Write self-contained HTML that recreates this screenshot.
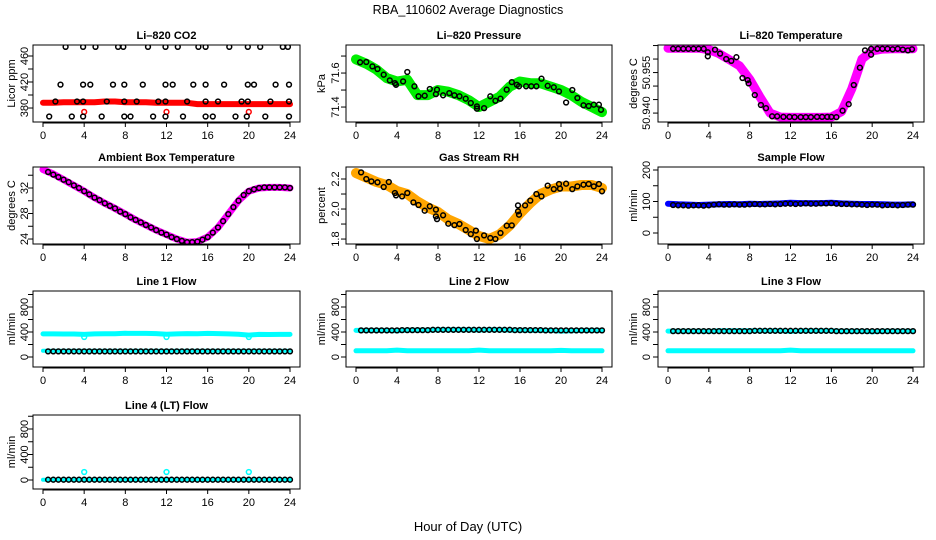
<!DOCTYPE html>
<html><head><meta charset="utf-8"><style>
html,body{margin:0;padding:0;background:#fff;}
svg{display:block;font-family:"Liberation Sans",Arial,sans-serif;}
</style></head><body>
<svg id="chart" width="936" height="540" viewBox="0 0 936 540" xmlns="http://www.w3.org/2000/svg">
<rect x="0" y="0" width="936" height="540" fill="#fff"/>
<text x="468" y="14" text-anchor="middle" font-size="12.5">RBA_110602  Average Diagnostics</text>
<text x="468" y="531" text-anchor="middle" font-size="13">Hour of Day (UTC)</text>
</svg>
<script>
// ---- shared x data ----
const xTicks = [0,4,8,12,16,20,24];
const hourly = [0,1,2,3,4,5,6,7,8,9,10,11,12,13,14,15,16,17,18,19,20,21,22,23,24];
const halfHours = [0.5,1,1.5,2,2.5,3,3.5,4,4.5,5,5.5,6,6.5,7,7.5,8,8.5,9,9.5,10,10.5,11,11.5,12,12.5,13,13.5,14,14.5,15,15.5,16,16.5,17,17.5,18,18.5,19,19.5,20,20.5,21,21.5,22,22.5,23,23.5,24];
const outlierHours = [4,12,20];

// ---- CO2 ----
const co2BlackHours = [2.2,3.9,5.1,7.3,7.8,10.2,11.9,13.1,15.1,15.8,18.1,19.9,21.1,23.3,23.8, 1.7,3.9,4.6,6.8,7.9,9.7,11.9,12.6,14.6,15.8,17.6,19.9,20.5,22.6,23.9, 1.2,3.3,3.9,6.2,7.9,9.1,11.2,11.9,14.0,15.8,17.0,19.3,19.9,22.1,23.9, 0.6,2.8,3.9,5.7,7.9,8.5,10.7,11.9,13.6,15.8,16.5,18.7,19.8,21.6,23.9];
const co2BlackVals = [474,474,474,474,474,474,474,474,474,474,474,474,474,474,474, 416,416,416,416,416,416,416,416,416,416,416,416,416,416,416, 390,390,390,390,390,390,390,390,390,390,390,390,390,390,390, 367,367,367,367,367,367,367,367,367,367,367,367,367,367,367];
const co2RedVals = [388,388,389,389,389,389,390,390,389,389,389,388,388,388,388,386,386,386,386,386,386,386,386,386,386];
const co2RedOutliers = [374,374,374];

// ---- Pressure ----
const presBlackHours = [0.4,1.0,1.6,2.1,2.7,3.3,3.8,3.9,4.6,5.0,5.7,6.1,6.7,7.2,7.8,7.9,8.5,9.1,9.6,10.1,10.7,11.2,11.8,11.8,12.5,13.1,13.6,14.1,14.7,15.2,15.7,15.9,16.6,17.1,17.6,18.1,18.7,19.3,19.8,20.5,21.1,21.6,22.2,22.7,23.2,23.7,23.9];
const presBlackVals = [71.663,71.665,71.639,71.624,71.590,71.557,71.541,71.531,71.551,71.606,71.522,71.463,71.467,71.506,71.476,71.502,71.469,71.482,71.469,71.463,71.449,71.424,71.390,71.404,71.394,71.463,71.437,71.449,71.502,71.547,71.531,71.522,71.522,71.522,71.522,71.567,71.525,71.516,71.492,71.427,71.500,71.453,71.410,71.406,71.414,71.414,71.384];
const presGreenVals = [71.68,71.655,71.62,71.57,71.55,71.56,71.47,71.47,71.50,71.49,71.47,71.44,71.40,71.43,71.46,71.52,71.55,71.54,71.54,71.52,71.50,71.47,71.43,71.40,71.37];

// ---- Li-820 temperature ----
const tempBlackHours = [0.5,1.0,1.5,2.0,2.5,3.0,3.5,3.9,3.9,4.6,5.1,5.7,6.2,6.7,7.3,7.8,7.9,8.5,9.1,9.6,10.2,10.7,11.3,11.9,12.4,13.0,13.5,14.0,14.6,15.1,15.6,16.0,16.5,17.1,17.7,18.2,18.8,19.3,19.9,19.9,20.5,21.0,21.5,22.0,22.5,23.0,23.5,23.9];
const tempBlackVals = [50.9638,50.9638,50.9638,50.9638,50.9638,50.9638,50.9638,50.9625,50.9610,50.9635,50.9620,50.9600,50.9593,50.9607,50.9530,50.9522,50.9510,50.9467,50.9430,50.9418,50.9388,50.9388,50.9386,50.9386,50.9385,50.9385,50.9385,50.9385,50.9386,50.9386,50.9386,50.9386,50.9385,50.9409,50.9433,50.9504,50.9568,50.9632,50.9616,50.9638,50.9638,50.9638,50.9638,50.9636,50.9638,50.9635,50.9632,50.9636];
const tempBandVals = [50.9640,50.9640,50.9640,50.9640,50.9635,50.9620,50.9598,50.9575,50.9525,50.9460,50.9400,50.9385,50.9384,50.9384,50.9384,50.9384,50.9385,50.9405,50.9490,50.9600,50.9630,50.9637,50.9638,50.9638,50.9638];

// ---- Ambient box temperature ----
const ambBlackVals = [34.5,34.1,33.7,33.3,32.9,32.4,32.0,31.5,31.0,30.5,30.1,29.6,29.2,28.8,28.3,27.9,27.4,27.0,26.6,26.2,25.8,25.4,25.0,24.7,24.3,24.0,23.7,23.5,23.5,23.6,23.9,24.3,25.0,25.8,26.8,27.9,29.0,30.0,30.9,31.5,31.8,32.0,32.1,32.1,32.1,32.1,32.1,32.0];
const ambBandVals = [34.9,34.2,33.3,32.4,31.5,30.5,29.6,28.8,27.9,27.0,26.2,25.4,24.7,24.0,23.5,23.6,24.3,25.8,27.9,30.0,31.5,32.0,32.1,32.1,32.0];

// ---- Gas stream RH ----
const rhBlackHours = [0.5,1.0,1.5,2.1,2.7,3.2,3.8,3.9,4.5,5.0,5.6,6.1,6.7,7.2,7.8,7.8,7.9,8.5,9.0,9.6,10.1,10.7,11.2,11.7,11.8,12.5,13.1,13.6,14.1,14.7,15.2,15.8,15.8,15.9,16.5,17.0,17.6,18.1,18.7,19.3,19.8,19.9,20.5,21.1,21.6,22.2,22.7,23.2,23.7,24.0];
const rhBlackVals = [2.244,2.200,2.184,2.178,2.147,2.180,2.107,2.091,2.084,2.107,2.044,2.027,1.989,2.018,1.996,1.951,1.933,1.958,1.902,1.893,1.900,1.860,1.833,1.856,1.800,1.824,1.807,1.800,1.840,1.889,1.891,2.024,1.984,1.962,2.024,2.056,2.100,2.084,2.156,2.133,2.167,2.136,2.169,2.133,2.151,2.162,2.167,2.151,2.167,2.118];
const rhBandVals = [2.24,2.21,2.18,2.16,2.12,2.10,2.05,2.01,1.98,1.93,1.90,1.86,1.82,1.80,1.83,1.89,1.97,2.04,2.10,2.13,2.15,2.15,2.16,2.16,2.14];

// ---- Sample flow ----
const sampleBlackVals = [89,88,88,87,88,88,87,88,90,91,90,90,91,90,90,91,92,91,91,92,91,92,93,93,92,93,94,93,93,94,94,95,93,92,92,91,91,90,89,90,90,88,89,89,88,89,90,90];
const sampleBandVals = [93,91,90,89,90,91,92,91,93,92,93,94,96,95,95,95,96,94,93,92,92,91,90,90,91];

// ---- Line flows ----
const line1BlackVals = [90,90,90,90,90,90,90,90,90,90,90,90,90,90,90,90,90,90,90,90,90,90,90,90,90,90,90,90,90,90,90,90,90,90,90,90,90,90,90,90,90,90,90,90,90,90,90,90];
const line1CyanHigh = [370,370,368,368,362,370,372,372,380,378,378,375,365,370,375,372,378,375,370,365,350,362,360,362,362];
const line1CyanLow = [100,100,100,100,100,100,100,100,100,100,100,100,100,100,100,100,100,100,100,100,100,100,100,100,100];
const line1CyanOutliers = [320,320,320];
const line2BlackVals = [425,425,425,425,425,425,425,425,430,430,430,430,430,430,435,435,435,435,435,435,435,435,435,435,435,435,435,435,435,435,430,430,430,430,430,430,425,425,425,425,425,425,425,425,425,425,425,425];
const line2CyanHigh = [425,425,425,425,420,430,430,430,435,435,435,435,430,435,435,430,430,425,425,425,415,420,425,425,425];
const line2CyanLow = [100,100,100,100,110,100,100,100,100,100,100,100,110,100,100,100,100,100,100,100,105,100,100,100,100];
const line3BlackVals = [415,415,415,415,415,415,415,415,415,415,415,415,415,415,415,415,420,420,420,420,420,420,420,420,420,420,420,420,420,420,420,420,415,415,415,415,415,415,415,415,415,415,415,415,415,415,415,415];
const line3CyanHigh = [415,415,415,415,410,420,420,420,420,420,420,420,410,420,420,420,420,415,415,415,405,415,415,415,415];
const line3CyanLow = [100,100,100,100,100,100,100,100,100,100,100,100,110,100,100,100,100,100,100,100,100,100,100,100,100];
const line4BlackVals = [5,5,5,5,5,5,5,5,5,5,5,5,5,5,5,5,5,5,5,5,5,5,5,5,5,5,5,5,5,5,5,5,5,5,5,5,5,5,5,5,5,5,5,5,5,5,5,5];
const line4CyanVals = [5,5,5,5,5,5,5,5,5,5,5,5,5,5,5,5,5,5,5,5,5,5,5,5,5];
const line4CyanOutliers = [125,125,125];

const lineYTicks = [0,200,400,600,800,1000];
const lineYLabels = ["0","","400","","800",""];

const cols = [{l:33,r:300,x0:43,x24:290,lab:24,tit:11},{l:346,r:612,x0:356,x24:602,lab:335,tit:321},{l:658,r:924,x0:668,x24:913,lab:646,tit:633}];
const rows = [{t:45,b:122},{t:167,b:244},{t:291,b:367},{t:415,b:489}];

const panels = [
 {name:'co2',title:'Li\u2013820 CO2',ylab:'Licor ppm',c:0,r:0,ymin:358.5,ymax:476.9,yt:[380,400,420,440,460],yl:['380','','420','','460'],
  s:[{k:'band',x:hourly,y:co2RedVals,col:'#ff0000',w:6},{k:'pts',x:outlierHours,y:co2RedOutliers,col:'#ff0000'},{k:'pts',x:co2BlackHours,y:co2BlackVals,col:'#000'}]},
 {name:'pressure',title:'Li\u2013820 Pressure',ylab:'kPa',c:1,r:0,ymin:71.312,ymax:71.765,yt:[71.4,71.5,71.6,71.7],yl:['71.4','','71.6',''],
  s:[{k:'band',x:hourly,y:presGreenVals,col:'#00ee00',w:10},{k:'pts',x:presBlackHours,y:presBlackVals,col:'#000'}]},
 {name:'li820-temperature',title:'Li\u2013820 Temperature',ylab:'degrees C',c:2,r:0,ymin:50.9367,ymax:50.9652,yt:[50.940,50.945,50.950,50.955,50.960,50.965],yl:['50.940','','','50.955','',''],
  s:[{k:'band',x:hourly,y:tempBandVals,col:'#ff00ff',w:9},{k:'pts',x:tempBlackHours,y:tempBlackVals,col:'#000'}]},
 {name:'ambient-temperature',title:'Ambient Box Temperature',ylab:'degrees C',c:0,r:1,ymin:23.22,ymax:35.29,yt:[24,26,28,30,32,34],yl:['24','','28','','32',''],
  s:[{k:'band',x:hourly,y:ambBandVals,col:'#ff00ff',w:7},{k:'pts',x:halfHours,y:ambBlackVals,col:'#000'}]},
 {name:'gas-stream-rh',title:'Gas Stream RH',ylab:'percent',c:1,r:1,ymin:1.767,ymax:2.28,yt:[1.8,1.9,2.0,2.1,2.2],yl:['1.8','','2.0','','2.2'],
  s:[{k:'band',x:hourly,y:rhBandVals,col:'#ffa500',w:10},{k:'pts',x:rhBlackHours,y:rhBlackVals,col:'#000'}]},
 {name:'sample-flow',title:'Sample Flow',ylab:'ml/min',c:2,r:1,ymin:-34.9,ymax:209.5,yt:[0,50,100,150,200],yl:['0','','100','','200'],
  s:[{k:'band',x:hourly,y:sampleBandVals,col:'#0000ff',w:6},{k:'pts',x:halfHours,y:sampleBlackVals,col:'#000'}]},
 {name:'line1-flow',title:'Line 1 Flow',ylab:'ml/min',c:0,r:2,ymin:-160,ymax:1056,yt:lineYTicks,yl:lineYLabels,
  s:[{k:'band',x:hourly,y:line1CyanHigh,col:'#00ffff',w:5},{k:'pts',x:outlierHours,y:line1CyanOutliers,col:'#00ffff'},{k:'band',x:hourly,y:line1CyanLow,col:'#00ffff',w:4},{k:'pts',x:halfHours,y:line1BlackVals,col:'#000'}]},
 {name:'line2-flow',title:'Line 2 Flow',ylab:'ml/min',c:1,r:2,ymin:-160,ymax:1056,yt:lineYTicks,yl:lineYLabels,
  s:[{k:'band',x:hourly,y:line2CyanHigh,col:'#00ffff',w:5},{k:'band',x:hourly,y:line2CyanLow,col:'#00ffff',w:5},{k:'pts',x:halfHours,y:line2BlackVals,col:'#000'}]},
 {name:'line3-flow',title:'Line 3 Flow',ylab:'ml/min',c:2,r:2,ymin:-160,ymax:1056,yt:lineYTicks,yl:lineYLabels,
  s:[{k:'band',x:hourly,y:line3CyanHigh,col:'#00ffff',w:5},{k:'band',x:hourly,y:line3CyanLow,col:'#00ffff',w:5},{k:'pts',x:halfHours,y:line3BlackVals,col:'#000'}]},
 {name:'line4-flow',title:'Line 4 (LT) Flow',ylab:'ml/min',c:0,r:3,ymin:-141,ymax:1019.6,yt:lineYTicks,yl:lineYLabels,
  s:[{k:'band',x:hourly,y:line4CyanVals,col:'#00ffff',w:4},{k:'pts',x:outlierHours,y:line4CyanOutliers,col:'#00ffff'},{k:'pts',x:halfHours,y:line4BlackVals,col:'#000'}]}
];

const NS = 'http://www.w3.org/2000/svg';
const svg = document.getElementById('chart');
function mk(tag, attrs, parent){
  const e = document.createElementNS(NS, tag);
  for (const k in attrs) e.setAttribute(k, attrs[k]);
  parent.appendChild(e);
  return e;
}

panels.forEach(p => {
  const C = cols[p.c], R = rows[p.r];
  const xs = h => C.x0 + (C.x24 - C.x0) * h / 24;
  const ys = v => R.b - (v - p.ymin) / (p.ymax - p.ymin) * (R.b - R.t);
  const g = mk('g', {}, svg);
  
  
  const clip = mk('clipPath', {id: 'clip-' + p.name}, g);
  mk('rect', {x: C.l, y: R.t, width: C.r - C.l, height: R.b - R.t}, clip);
  const plot = mk('g', {'clip-path': 'url(#clip-' + p.name + ')'}, g);
  
  
  p.s.forEach((s, si) => {
    if (s.k === 'band') {
      const d = s.x.map((h, i) => (i ? 'L' : 'M') + xs(h).toFixed(1) + ' ' + ys(s.y[i]).toFixed(1)).join(' ');
      const path = mk('path', {d: d, fill: 'none', stroke: s.col, 'stroke-width': s.w, 'stroke-linecap': 'round', 'stroke-linejoin': 'round'}, plot);
      
      
    } else {
      s.x.forEach((h, i) => {
        const c = mk('circle', {cx: xs(h).toFixed(1), cy: ys(s.y[i]).toFixed(1), r: 2.4, fill: 'none', stroke: s.col, 'stroke-width': 1.5}, plot);
        
        
      });
    }
  });
  const box = mk('rect', {x: C.l, y: R.t, width: C.r - C.l, height: R.b - R.t, fill: 'none', stroke: '#000', 'stroke-width': 1}, g);
  
  
  const t = mk('text', {x: (C.l + C.r) / 2, y: R.t - 6, 'text-anchor': 'middle', 'font-size': 11, 'font-weight': 'bold'}, g);
  t.textContent = p.title;
  
  
  // x axis
  const xa = mk('g', {}, g);
  
  
  mk('line', {x1: xs(xTicks[0]), x2: xs(xTicks[xTicks.length - 1]), y1: R.b + 1, y2: R.b + 1, stroke: '#000'}, xa);
  xTicks.forEach(v => {
    mk('line', {x1: xs(v), x2: xs(v), y1: R.b, y2: R.b + 5, stroke: '#000'}, xa);
    const lt = mk('text', {x: xs(v), y: R.b + 17, 'text-anchor': 'middle', 'font-size': 11}, xa);
    lt.textContent = String(v);
    
    
  });
  // y axis
  const ya = mk('g', {}, g);
  
  
  p.yt.forEach((v, i) => {
    mk('line', {x1: C.l - 5, x2: C.l, y1: ys(v), y2: ys(v), stroke: '#000'}, ya);
    if (p.yl[i]) {
      const yy = ys(v);
      const lt = mk('text', {x: C.lab + 4, y: yy, 'text-anchor': 'middle', 'font-size': 11, transform: 'rotate(-90 ' + (C.lab + 4) + ' ' + yy + ')'}, ya);
      lt.textContent = p.yl[i];
      
      
    }
  });
  const cy = (R.t + R.b) / 2;
  const yt = mk('text', {x: C.tit + 4, y: cy, 'text-anchor': 'middle', 'font-size': 11, transform: 'rotate(-90 ' + (C.tit + 4) + ' ' + cy + ')'}, g);
  yt.textContent = p.ylab;
  
  
});
</script>
</body></html>
